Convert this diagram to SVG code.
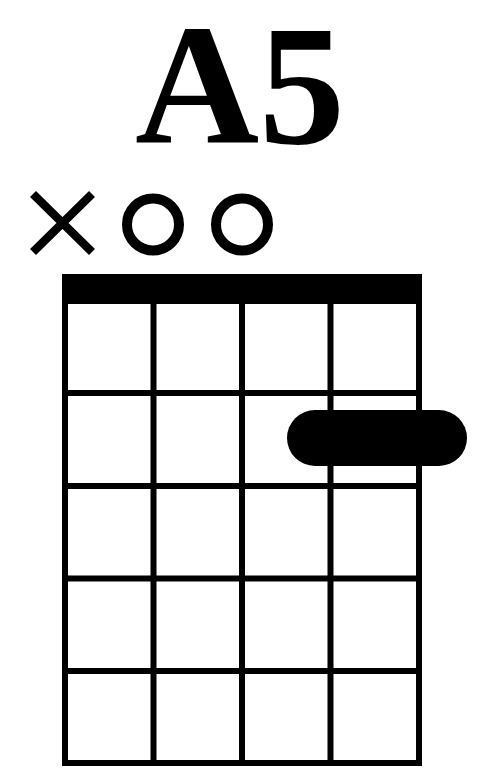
<svg xmlns="http://www.w3.org/2000/svg" width="483" height="776" viewBox="0 0 483 776">
<style>
.line{stroke:#000;stroke-width:6;fill:none}
.open{stroke:#000;stroke-width:10;fill:none}
.mute{stroke:#000;stroke-width:8.5;fill:none}
.title{font-family:"Liberation Serif","Times New Roman",serif;font-weight:bold;font-size:172px;fill:#000}
</style>
<rect width="483" height="776" fill="#fff"/>
<g id="title"><text class="title" x="240" y="143" text-anchor="middle">A5</text></g>
<g id="markers">
<path class="mute" d="M33,194 L92,252 M92,194 L33,252"/>
<circle class="open" cx="153" cy="224.5" r="26"/>
<circle class="open" cx="242" cy="224.5" r="26"/>
</g>
<g id="nut"><rect x="62" y="274" width="360" height="30" fill="#000"/></g>
<g id="grid">
<path class="line" d="M65,274 V766 M153.5,274 V766 M242,274 V766 M330.5,274 V766 M419,274 V766"/>
<path class="line" d="M62,393 H422 M62,486 H422 M62,578.5 H422 M62,671 H422 M62,763 H422"/>
</g>
<g id="barre"><rect x="287" y="410" width="180" height="56" rx="28" fill="#000"/></g>
</svg>
